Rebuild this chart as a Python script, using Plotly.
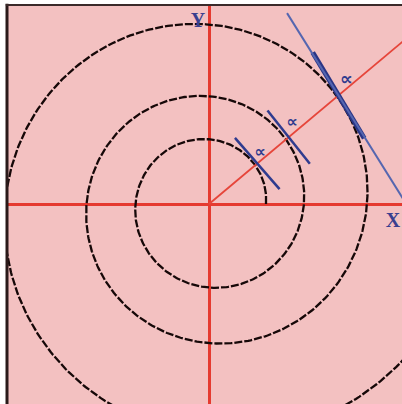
import numpy as np
import plotly.graph_objects as go

# ---- data (origin = crossing of the red axes, 1 unit = 1 px) ----
x_range = [-202, 193]
y_range = [-200, 199]

# equiangular spiral
spiral_start_radius = 57          # radius at angle 0
spiral_growth_per_turn = 1.665    # radius ratio after one full turn
spiral_end_deg = 1060             # how far the spiral is drawn

# radial (red) ray
ray_angle_deg = 40
ray_length = 280

# tangent segments crossing the ray
tangent_r = [63, 104, 169, 169]
tangent_angle_deg = [131, 128.5, 121, 122]
tangent_up_len = [34, 34, 50, 97]
tangent_down_len = [34, 34, 50, 140]
tangent_width = [2.5, 2.5, 5, 2]
tangent_color = ["#2f3b8f", "#2f3b8f", "#2a3585", "#5566b0"]

# alpha marks
alpha_r = [72, 116, 185]
alpha_angle_deg = [45, 44.3, 42]
alpha_size = [16, 16, 18]

# axis letters
axis_label_text = ["X", "Y"]
axis_label_x = [184, -11]
axis_label_y = [-18, 182]

fig = go.Figure()

# spiral
th = np.radians(np.arange(0, spiral_end_deg + 1, 1.0))
rr = spiral_start_radius * spiral_growth_per_turn ** (th / (2 * np.pi))
fig.add_trace(go.Scatter(x=rr * np.cos(th), y=rr * np.sin(th), mode="lines",
                         line=dict(color="#160808", width=2.3, dash="8px,2px"),
                         hoverinfo="skip", showlegend=False))

# red ray
a = np.radians(ray_angle_deg)
fig.add_trace(go.Scatter(x=[0, ray_length * np.cos(a)], y=[0, ray_length * np.sin(a)],
                         mode="lines", line=dict(color="#e6453a", width=1.8),
                         hoverinfo="skip", showlegend=False))

# tangents
for r, ang, up, dn, w, c in zip(tangent_r, tangent_angle_deg, tangent_up_len,
                                 tangent_down_len, tangent_width, tangent_color):
    cx, cy = r * np.cos(a), r * np.sin(a)
    t = np.radians(ang)
    ux, uy = np.cos(t), np.sin(t)
    fig.add_trace(go.Scatter(x=[cx - dn * ux, cx + up * ux], y=[cy - dn * uy, cy + up * uy],
                             mode="lines", line=dict(color=c, width=w),
                             hoverinfo="skip", showlegend=False))

# alpha marks
for r, ang, s in zip(alpha_r, alpha_angle_deg, alpha_size):
    t = np.radians(ang)
    fig.add_trace(go.Scatter(x=[r * np.cos(t)], y=[r * np.sin(t)], mode="text", text=["<b>∝</b>"],
                             textfont=dict(family="DejaVu Sans", size=s, color="#2f3b8f"),
                             hoverinfo="skip", showlegend=False))

# axis letters
fig.add_trace(go.Scatter(x=axis_label_x, y=axis_label_y, mode="text",
                         text=["<b>" + s + "</b>" for s in axis_label_text],
                         textfont=dict(family="Liberation Serif", size=20, color="#3a3f8f"),
                         hoverinfo="skip", showlegend=False))

axis_common = dict(showgrid=False, showticklabels=False, ticks="", zeroline=True,
                   zerolinecolor="#e53a30", zerolinewidth=2.5, showline=False, fixedrange=True)

fig.update_layout(
    width=402, height=404, autosize=False,
    margin=dict(l=7, r=0, t=5, b=0, pad=0),
    paper_bgcolor="white", plot_bgcolor="#f3c1c1",
    xaxis=dict(range=x_range, **axis_common),
    yaxis=dict(range=y_range, **axis_common),
    shapes=[
        dict(type="line", xref="paper", yref="paper", x0=0, x1=0, y0=0, y1=1.003,
             line=dict(color="#2a1a1a", width=3)),
        dict(type="line", xref="paper", yref="paper", x0=-0.003, x1=1, y0=1, y1=1,
             line=dict(color="#3a2a2a", width=2)),
    ],
)

fig.write_html("out.html", config={"displayModeBar": False},
               post_script="document.body.style.margin='0';document.body.style.overflow='hidden';")
